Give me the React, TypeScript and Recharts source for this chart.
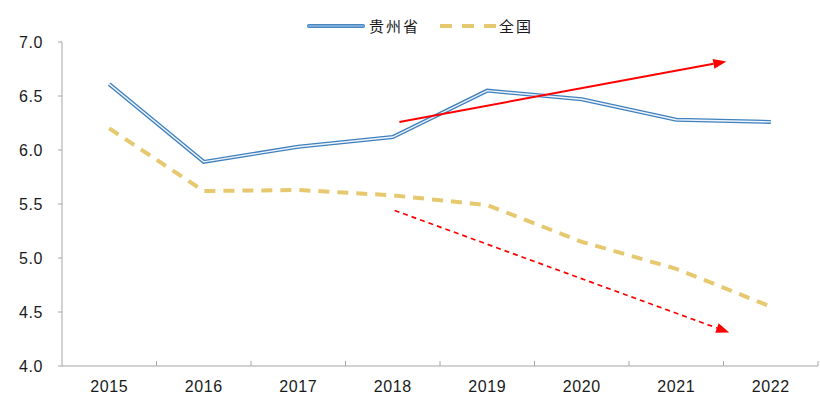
import { LineChart, Line, XAxis, YAxis, ReferenceLine } from 'recharts';

const YEARS = ['2015', '2016', '2017', '2018', '2019', '2020', '2021', '2022'];
const GUIZHOU = [6.61, 5.89, 6.03, 6.12, 6.55, 6.47, 6.28, 6.26];
const NATIONAL = [6.2, 5.62, 5.63, 5.58, 5.49, 5.15, 4.9, 4.55];
const Y_TICKS = [4.0, 4.5, 5.0, 5.5, 6.0, 6.5, 7.0];
// ticks at category centres (labels) and at boundaries (tick marks)
const X_TICKS = [-0.5, 0, 0.5, 1, 1.5, 2, 2.5, 3, 3.5, 4, 4.5, 5, 5.5, 6, 6.5, 7, 7.5];

// trend arrows, in data units
const UP_ARROW = [
  { x: 3.07, y: 6.26 },
  { x: 6.53, y: 6.82 },
];
const DOWN_ARROW = [
  { x: 3.02, y: 5.44 },
  { x: 6.56, y: 4.31 },
];

const data = YEARS.map((year, i) => ({
  x: i,
  year,
  gz: GUIZHOU[i],
  cn: NATIONAL[i],
}));

const FONT = '"Liberation Sans", Arial, sans-serif';
const CJK = '"Noto Sans CJK SC", sans-serif';

function XTick(props: any) {
  const { x, y, payload } = props;
  const v = payload.value;
  if (Number.isInteger(v)) {
    return (
      <text x={x} y={y + 26} textAnchor="middle" fontSize={16} fill="#1a1a1a" fontFamily={FONT} letterSpacing={0.6}>
        {YEARS[v]}
      </text>
    );
  }
  if (v <= -0.5) return null;
  return <line x1={x} x2={x} y1={y} y2={y - 5} stroke="#a6a6a6" />;
}

function arrowShape(dashed: boolean) {
  return (props: any) => {
    const { x1, y1, x2, y2 } = props;
    const ang = Math.atan2(y2 - y1, x2 - x1);
    const len = 13;
    const half = 5;
    const bx = x2 - len * Math.cos(ang);
    const by = y2 - len * Math.sin(ang);
    const px = -Math.sin(ang) * half;
    const py = Math.cos(ang) * half;
    return (
      <g>
        <line
          x1={x1}
          y1={y1}
          x2={bx}
          y2={by}
          stroke="#ff0000"
          strokeWidth={dashed ? 1.7 : 2}
          strokeDasharray={dashed ? '5 4' : undefined}
        />
        <polygon
          points={`${x2},${y2} ${bx + px},${by + py} ${bx - px},${by - py}`}
          fill="#ff0000"
        />
      </g>
    );
  };
}

function LegendOverlay() {
  const txt = {
    position: 'absolute' as const,
    top: 15,
    fontFamily: CJK,
    fontSize: 15,
    lineHeight: '22px',
    color: '#1a1a1a',
    letterSpacing: 2,
  };
  return (
    <div style={{ position: 'absolute', left: 0, top: 0, width: 820, height: 40 }}>
      <svg width={820} height={40} style={{ position: 'absolute', left: 0, top: 0 }}>
        <line x1={309} x2={363} y1={26} y2={26} stroke="#4a86bf" strokeWidth={4} strokeLinecap="round" />
        <line x1={309} x2={363} y1={26} y2={26} stroke="#8cb6de" strokeWidth={1.5} strokeLinecap="round" />
        <line x1={440} x2={497} y1={26} y2={26} stroke="#e6c86e" strokeWidth={4} strokeDasharray="12 10" />
      </svg>
      <span style={{ ...txt, left: 369 }}>贵州省</span>
      <span style={{ ...txt, left: 499 }}>全国</span>
    </div>
  );
}

export default function App() {
  return (
    <div style={{ position: 'absolute', left: 0, top: 0, width: 820, height: 396, background: '#fff' }}>
      <LegendOverlay />
      <LineChart width={820} height={396} data={data} margin={{ top: 42, right: 2, bottom: 0, left: 12 }}>
        <XAxis
          dataKey="x"
          type="number"
          domain={[-0.5, 7.5]}
          ticks={X_TICKS}
          interval={0}
          tick={<XTick />}
          tickLine={false}
          tickSize={0}
          tickMargin={0}
          height={30}
          axisLine={{ stroke: '#a6a6a6' }}
        />
        <YAxis
          type="number"
          domain={[4, 7]}
          ticks={Y_TICKS}
          interval={0}
          width={50}
          tickSize={4}
          tickMargin={15}
          tickFormatter={(v: number) => v.toFixed(1)}
          tick={{ fontSize: 16, fill: '#1a1a1a', fontFamily: FONT, letterSpacing: 0.6 }}
          tickLine={{ stroke: '#a6a6a6' }}
          axisLine={{ stroke: '#a6a6a6' }}
        />
        <Line
          dataKey="cn"
          stroke="#e6c86e"
          strokeWidth={4}
          strokeDasharray="11 8"
          dot={false}
          isAnimationActive={false}
        />
        <Line dataKey="gz" stroke="#3f80bd" strokeWidth={4} dot={false} isAnimationActive={false} />
        <Line dataKey="gz" stroke="#eef4fb" strokeWidth={1.4} dot={false} isAnimationActive={false} />
        <ReferenceLine
          segment={UP_ARROW}
          ifOverflow="visible"
          shape={arrowShape(false)}
        />
        <ReferenceLine
          segment={DOWN_ARROW}
          ifOverflow="visible"
          shape={arrowShape(true)}
        />
      </LineChart>
    </div>
  );
}
